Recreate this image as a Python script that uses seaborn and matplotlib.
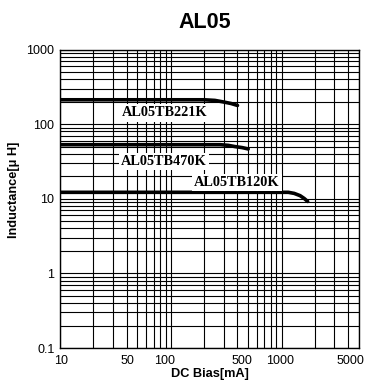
import matplotlib
matplotlib.use("Agg")
import matplotlib.pyplot as plt
import matplotlib.ticker as mticker
import matplotlib.transforms as mtransforms
import pandas as pd
import seaborn as sns

# DC bias [mA] vs inductance [uH]
bias_221 = [10, 200, 250, 300, 350, 400]
ind_221 = [212, 212, 208, 198, 189, 178]
bias_470 = [10, 280, 330, 380, 440, 500]
ind_470 = [53, 53, 52, 50, 48.5, 46.5]
bias_120 = [10, 1150, 1300, 1470, 1600, 1720]
ind_120 = [12.2, 12.2, 11.8, 11.0, 10.1, 9.2]

x_ticks = [10, 50, 100, 500, 1000, 5000]
y_ticks = [0.1, 1, 10, 100, 1000]
y_tick_labels = ["0.1", "1", "10", "100", "1000"]

sns.set_style("white")
plt.rcParams['font.family'] = ['Liberation Sans', 'DejaVu Sans']
plt.rcParams['text.color'] = 'black'
plt.rcParams['axes.labelcolor'] = 'black'

fig = plt.figure(figsize=(3.69, 3.85), dpi=100)
ax = fig.add_axes([0.1626, 0.0961, 0.8103, 0.7753])

df = pd.concat([
    pd.DataFrame({"bias": bias_221, "L": ind_221, "part": "AL05TB221K"}),
    pd.DataFrame({"bias": bias_470, "L": ind_470, "part": "AL05TB470K"}),
    pd.DataFrame({"bias": bias_120, "L": ind_120, "part": "AL05TB120K"}),
])
for part, d in df.groupby("part", sort=False):
    sns.lineplot(data=d, x="bias", y="L", ax=ax, color="black", lw=2.6,
                 sort=False, estimator=None, zorder=4)

ax.set_xscale("log")
ax.set_yscale("log")
ax.set_xlim(10, 5000)
ax.set_ylim(0.1, 1000)

ax.xaxis.set_major_locator(mticker.FixedLocator(x_ticks))
ax.xaxis.set_major_formatter(mticker.FixedFormatter([str(v) for v in x_ticks]))
ax.xaxis.set_minor_locator(mticker.LogLocator(base=10, subs=range(2, 10), numticks=20))
ax.xaxis.set_minor_formatter(mticker.NullFormatter())
ax.yaxis.set_major_locator(mticker.FixedLocator(y_ticks))
ax.yaxis.set_major_formatter(mticker.FixedFormatter(y_tick_labels))
ax.yaxis.set_minor_locator(mticker.LogLocator(base=10, subs=range(1, 10), numticks=20))
ax.yaxis.set_minor_formatter(mticker.NullFormatter())

ax.grid(True, which="both", color="black", lw=0.8)
ax.tick_params(which="both", length=0, labelsize=9, colors="black")
ax.tick_params(axis="x", pad=5)
ax.tick_params(axis="y", pad=4)
for s in ax.spines.values():
    s.set_color("black")
    s.set_linewidth(1.0)

# the printed graph sets its x labels a little left of the grid lines
fig.canvas.draw()
shifts = [1, -10, -6, -6, -2, -9]
for lbl, dx in zip(ax.get_xticklabels(), shifts):
    lbl.set_transform(lbl.get_transform() +
                      mtransforms.ScaledTranslation(dx / 100, 0, fig.dpi_scale_trans))

ax.set_xlabel("DC Bias[mA]", fontsize=9.2, fontweight="bold", labelpad=1)
ax.set_ylabel("Inductance[μ H]", fontsize=9.2, fontweight="bold")
ax.yaxis.set_label_coords(-0.135, 0.53)

box = dict(facecolor="white", edgecolor="none", pad=1.5)
lab = dict(family=["Liberation Serif", "DejaVu Serif"], fontweight="bold",
           fontsize=10.3, ha="center", va="center", bbox=box, zorder=5)
ax.text(88, 141, "AL05TB221K", **lab)
ax.text(87, 31.3, "AL05TB470K", **lab)
ax.text(396, 16.4, "AL05TB120K", **lab)

fig.text(205 / 369, 1 - 22 / 385, "AL05", ha="center", va="center",
         fontsize=15.5, fontweight="bold")

fig.savefig("out.png", dpi=100)
